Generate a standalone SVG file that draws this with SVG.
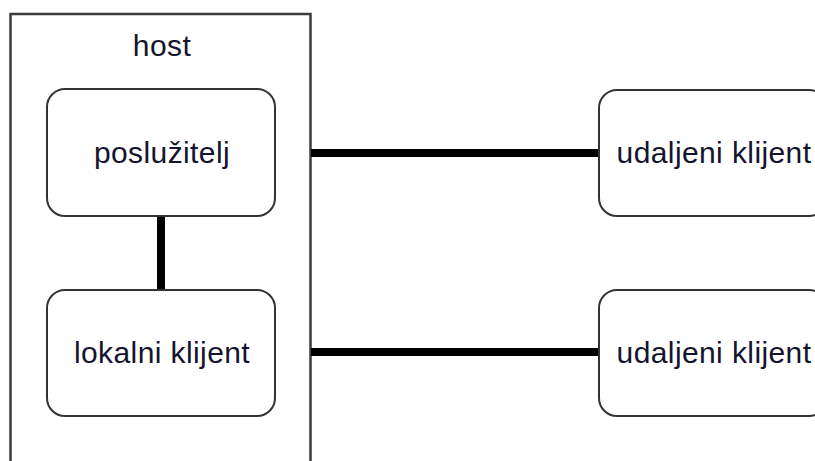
<svg xmlns="http://www.w3.org/2000/svg" width="815" height="461" viewBox="0 0 815 461">
  <style>
    .frame { fill: #ffffff; stroke: #3c3c3c; stroke-width: 2.5; }
    .box { fill: #ffffff; stroke: #333333; stroke-width: 2; }
    .link { stroke: #000000; stroke-width: 8; fill: none; }
    .label { font-family: "Liberation Sans", Arial, sans-serif; font-size: 30px; letter-spacing: 0.4px; fill: #14142e; text-anchor: middle; }
  </style>
  <rect width="815" height="461" fill="#ffffff"/>

  <!-- host container -->
  <g id="host">
    <rect class="frame" x="10.5" y="14" width="300" height="470"/>
    <text class="label" x="162" y="56">host</text>
  </g>

  <!-- connections -->
  <g id="connectors">
    <line class="link" x1="161" y1="216" x2="161" y2="290"/>
    <line class="link" x1="311" y1="153" x2="599" y2="153"/>
    <line class="link" x1="311" y1="352" x2="599" y2="352"/>
  </g>

  <g id="posluzitelj">
    <rect class="box" x="47" y="89" width="228" height="127" rx="18" ry="18"/>
    <text class="label" x="162" y="163">poslužitelj</text>
  </g>

  <g id="lokalni-klijent">
    <rect class="box" x="47" y="290" width="228" height="126" rx="18" ry="18"/>
    <text class="label" x="162" y="363">lokalni klijent</text>
  </g>

  <g id="udaljeni-klijent-1">
    <rect class="box" x="599" y="90" width="228" height="126" rx="18" ry="18"/>
    <text class="label" x="714" y="163">udaljeni klijent</text>
  </g>

  <g id="udaljeni-klijent-2">
    <rect class="box" x="599" y="290" width="228" height="126" rx="18" ry="18"/>
    <text class="label" x="714" y="363">udaljeni klijent</text>
  </g>
</svg>
